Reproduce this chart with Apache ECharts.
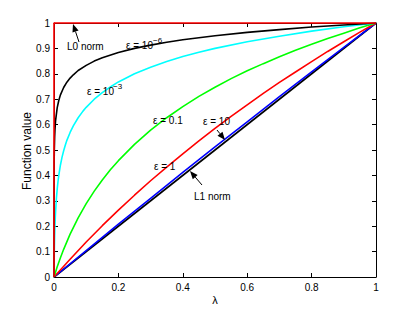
<!DOCTYPE html>
<html><head><meta charset="utf-8">
<script src="https://cdn.jsdelivr.net/npm/echarts@6/dist/echarts.min.js"></script>
<style>html,body{margin:0;padding:0;background:#fff}#c{width:415px;height:312px}</style>
</head><body><div id="c"></div>
<script>
// lambda samples and values
const lamEps6 = [0, 0.000001, 0.00001, 0.0001, 0.0005, 0.001, 0.002, 0.003, 0.005, 0.01, 0.015, 0.02, 0.03, 0.04, 0.05, 0.06, 0.075, 0.1, 0.125, 0.15, 0.2, 0.25, 0.3, 0.35, 0.4, 0.45, 0.5, 0.6, 0.7, 0.8, 0.9, 1];
const valEps6 = [0, 0.050, 0.174, 0.334, 0.450, 0.500, 0.550, 0.580, 0.617, 0.667, 0.696, 0.717, 0.746, 0.767, 0.783, 0.796, 0.813, 0.833, 0.850, 0.863, 0.884, 0.900, 0.913, 0.924, 0.934, 0.942, 0.950, 0.963, 0.974, 0.984, 0.992, 1];
const lamEps3 = [0, 0.0001, 0.0003, 0.0005, 0.001, 0.0015, 0.002, 0.003, 0.004, 0.005, 0.0075, 0.01, 0.0125, 0.015, 0.02, 0.025, 0.03, 0.035, 0.04, 0.05, 0.06, 0.075, 0.09, 0.1, 0.125, 0.15, 0.175, 0.2, 0.25, 0.3, 0.35, 0.4, 0.45, 0.5, 0.6, 0.7, 0.8, 0.9, 1];
const valEps3 = [0, 0.014, 0.038, 0.059, 0.100, 0.133, 0.159, 0.201, 0.233, 0.259, 0.310, 0.347, 0.377, 0.401, 0.441, 0.472, 0.497, 0.519, 0.538, 0.569, 0.595, 0.627, 0.653, 0.668, 0.700, 0.726, 0.748, 0.768, 0.800, 0.826, 0.848, 0.868, 0.885, 0.900, 0.926, 0.948, 0.968, 0.985, 1];
const lamEps01 = [0, 0.01, 0.02, 0.03, 0.05, 0.075, 0.1, 0.125, 0.15, 0.175, 0.2, 0.25, 0.3, 0.35, 0.4, 0.45, 0.5, 0.55, 0.6, 0.65, 0.7, 0.75, 0.8, 0.85, 0.9, 0.95, 1];
const valEps01 = [0, 0.040, 0.076, 0.109, 0.169, 0.233, 0.289, 0.338, 0.382, 0.422, 0.458, 0.522, 0.578, 0.627, 0.671, 0.711, 0.747, 0.781, 0.812, 0.840, 0.867, 0.893, 0.916, 0.939, 0.960, 0.981, 1];
const lamEps1 = [0, 0.05, 0.1, 0.15, 0.2, 0.25, 0.3, 0.35, 0.4, 0.45, 0.5, 0.55, 0.6, 0.65, 0.7, 0.75, 0.8, 0.85, 0.9, 0.95, 1];
const valEps1 = [0, 0.070, 0.138, 0.202, 0.263, 0.322, 0.379, 0.433, 0.485, 0.536, 0.585, 0.632, 0.678, 0.723, 0.766, 0.807, 0.848, 0.888, 0.926, 0.964, 1];
const lamEps10 = [0, 0.1, 0.2, 0.3, 0.4, 0.5, 0.6, 0.7, 0.8, 0.9, 1];
const valEps10 = [0, 0.104, 0.208, 0.310, 0.412, 0.512, 0.611, 0.710, 0.808, 0.904, 1];
const lamL1 = [0, 1];
const valL1 = [0, 1];
const lamL0 = [0, 0, 1];
const valL0 = [0, 1, 1];

const xTicks = [0, 0.2, 0.4, 0.6, 0.8, 1];
const yTicks = [0, 0.1, 0.2, 0.3, 0.4, 0.5, 0.6, 0.7, 0.8, 0.9, 1];

const zip = (a, b) => a.map((v, i) => [v, b[i]]);
const FONT = 'Liberation Sans';

const chart = echarts.init(document.getElementById('c'), null, {renderer: 'svg'});
const axisCommon = {
  type: 'value', min: 0, max: 1,
  axisLine: {show: true, onZero: false, lineStyle: {color: '#000', width: 1}},
  axisTick: {show: true, inside: true, length: 4, lineStyle: {color: '#000'}},
  splitLine: {show: false}
};
function line(name, data, color, z, extra) {
  return Object.assign({
    name, type: 'line', data, showSymbol: false, symbol: 'none',
    lineStyle: {color, width: 1.6}, itemStyle: {color}, z, animation: false
  }, extra || {});
}
function arrow(tx, ty, fx, fy) {
  const dx = tx - fx, dy = ty - fy, L = Math.hypot(dx, dy);
  const ux = dx / L, uy = dy / L, hl = 8, hw = 3.2;
  const bx = tx - ux * hl, by = ty - uy * hl;
  return [
    {type: 'line', shape: {x1: fx, y1: fy, x2: bx, y2: by}, style: {stroke: '#000', lineWidth: 1}, z: 100},
    {type: 'polygon', shape: {points: [[tx, ty], [bx - uy * hw, by + ux * hw], [bx + uy * hw, by - ux * hw]]}, style: {fill: '#000'}, z: 100}
  ];
}
function txt(x, y, s, size, align, rot) {
  return {type: 'text', x, y, rotation: rot || 0, style: {text: s, font: (size || 10) + 'px "' + FONT + '"', fill: '#000', textAlign: align || 'left', textVerticalAlign: 'middle'}, z: 100};
}

chart.setOption({
  animation: false,
  backgroundColor: '#fff',
  grid: {left: 54, right: 39, top: 23, bottom: 35},
  xAxis: [
    Object.assign({}, axisCommon, {position: 'bottom', interval: 0.2,
      axisLabel: {show: true, color: '#000', fontFamily: FONT, fontSize: 10, margin: 5,
        formatter: v => xTicks.includes(+v.toFixed(1)) ? String(+v.toFixed(1)) : ''}}),
    Object.assign({}, axisCommon, {position: 'top', interval: 0.2, axisLabel: {show: false}})
  ],
  yAxis: [
    Object.assign({}, axisCommon, {position: 'left', interval: 0.1,
      axisLabel: {show: true, color: '#000', fontFamily: FONT, fontSize: 10, margin: 4,
        formatter: v => yTicks.includes(+v.toFixed(1)) ? String(+v.toFixed(1)) : ''}}),
    Object.assign({}, axisCommon, {position: 'right', interval: 0.1, axisLabel: {show: false}})
  ],
  series: [
    line('L1 norm', zip(lamL1, valL1), '#000000', 2),
    line('ε = 10', zip(lamEps10, valEps10), '#0000ff', 3),
    line('ε = 1', zip(lamEps1, valEps1), '#ff0000', 4),
    line('ε = 0.1', zip(lamEps01, valEps01), '#00ff00', 5),
    line('ε = 1e-3', zip(lamEps3, valEps3), '#00ffff', 6),
    line('ε = 1e-6', zip(lamEps6, valEps6), '#000000', 7),
    line('L0 norm', zip(lamL0, valL0), '#ff0000', 10, {clip: false})
  ],
  graphic: [].concat(
    txt(27, 151, 'Function value', 12, 'center', Math.PI / 2),
    txt(215, 300, 'λ', 11, 'center'),
    txt(67, 46, 'L0 norm'),
    arrow(73, 24, 79, 42),
    txt(126, 45, 'ε = 10'),
    txt(153, 40, '−6', 8),
    txt(87, 91, 'ε = 10'),
    txt(113, 86, '−3', 8),
    txt(153, 120, 'ε = 0.1'),
    txt(203, 121, 'ε = 10'),
    arrow(225, 140, 217, 130),
    txt(154, 166, 'ε = 1'),
    txt(194, 196, 'L1 norm'),
    arrow(190, 171, 202, 185)
  )
});
</script></body></html>
